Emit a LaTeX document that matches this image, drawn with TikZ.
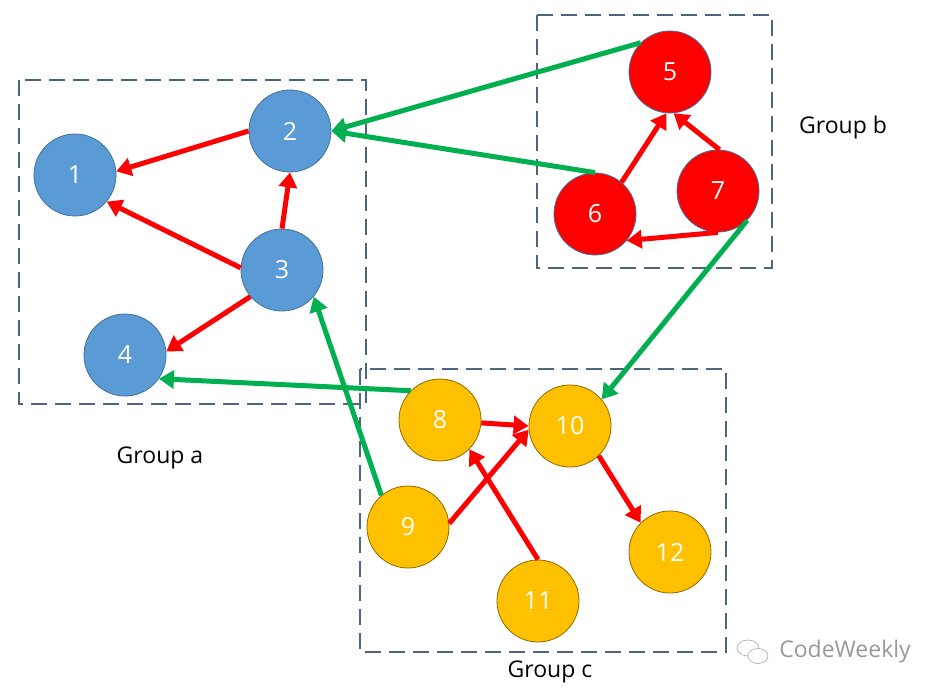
\documentclass[tikz,border=0pt]{standalone}
\usepackage{fontspec}
\setmainfont{Open Sans}
\usepackage{tikz}
\usetikzlibrary{arrows.meta}

\definecolor{nodeblue}{HTML}{5B9BD5}
\definecolor{nodeyellow}{HTML}{FFC000}
\definecolor{rimblue}{HTML}{41719C}
\definecolor{edgegreen}{HTML}{00B050}
\definecolor{boxline}{HTML}{4A6580}

\begin{document}
\begin{tikzpicture}[x=1pt, y=-1pt,
  vertex/.style={circle, draw=rimblue, line width=0.8pt, minimum size=82pt,
    inner sep=0pt, text=white, font=\fontsize{25}{25}\selectfont},
  bluev/.style={vertex, fill=nodeblue},
  redv/.style={vertex, fill=red},
  yellowv/.style={vertex, fill=nodeyellow, draw=nodeyellow!55!black},
  groupbox/.style={draw=boxline, line width=2.8pt, dash pattern=on 16pt off 8pt},
  grouplabel/.style={font=\fontsize{23}{23}\selectfont},
  inner/.style={draw=red, line width=5pt, -{Triangle[length=15pt,width=18pt]}},
  outer/.style={draw=edgegreen, line width=5pt, -{Triangle[length=15pt,width=18pt]}}]
  \useasboundingbox[fill=white] (0,0) rectangle (942,695);

  % groups
  \draw[groupbox] (19,80) rectangle (366,404);
  \draw[groupbox] (537,15) rectangle (772,268);
  \draw[groupbox] (360,369) rectangle (726,652);
  \node[grouplabel] (labela) at (160,458) {Group a};
  \node[grouplabel] (labelb) at (843,128) {Group b};
  \node[grouplabel] (labelc) at (550,672) {Group c};

  % group a
  \node[bluev] (n1) at (75,175) {1};
  \node[bluev] (n2) at (290,131) {2};
  \node[bluev] (n3) at (282,270) {3};
  \node[bluev] (n4) at (125,355) {4};
  % group b
  \node[redv] (n5) at (670,72) {5};
  \node[redv] (n6) at (595,214) {6};
  \node[redv] (n7) at (718,191) {7};
  % group c
  \node[yellowv] (n8) at (440,420) {8};
  \node[yellowv] (n9) at (408,527) {9};
  \node[yellowv] (n10) at (570,426) {10};
  \node[yellowv] (n11) at (538,601) {11};
  \node[yellowv] (n12) at (670,552) {12};

  % links inside the groups
  \draw[inner] (n2.180) -- (n1.5);
  \draw[inner] (n3.177) -- (n1.-40);
  \draw[inner] (n3.north) -- (n2.south);
  \draw[inner] (n3.-140) -- (n4.5);
  \draw[inner] (n6.50) -- (n5.-95);
  \draw[inner] (n7.88) -- (n5.-85);
  \draw[inner] (n7.-90) -- (n6.-40);
  \draw[inner] (n8.-4) -- (n10.west);
  \draw[inner] (n9.5) -- (n10.185);
  \draw[inner] (n11.north) -- (n8.-45);
  \draw[inner] (n10.-46) -- (n12.135);

  % links between the groups
  \draw[outer] (n5.135) -- (n2.east);
  \draw[outer] (n6.north) -- (n2.east);
  \draw[outer] (n7.-45) -- (n10.40);
  \draw[outer] (n8.135) -- (n4.-35);
  \draw[outer] (n9.130) -- (n3.-40);

  % watermark
  \draw[gray!70, line width=0.6pt] (748,648) ellipse (11pt and 8pt);
  \draw[gray!70, line width=0.6pt, fill=white] (758,656) ellipse (10pt and 7.5pt);
  \node[text=gray!80, font=\fontsize{23}{23}\selectfont] (mark) at (845,652) {CodeWeekly};
\end{tikzpicture}
\end{document}
